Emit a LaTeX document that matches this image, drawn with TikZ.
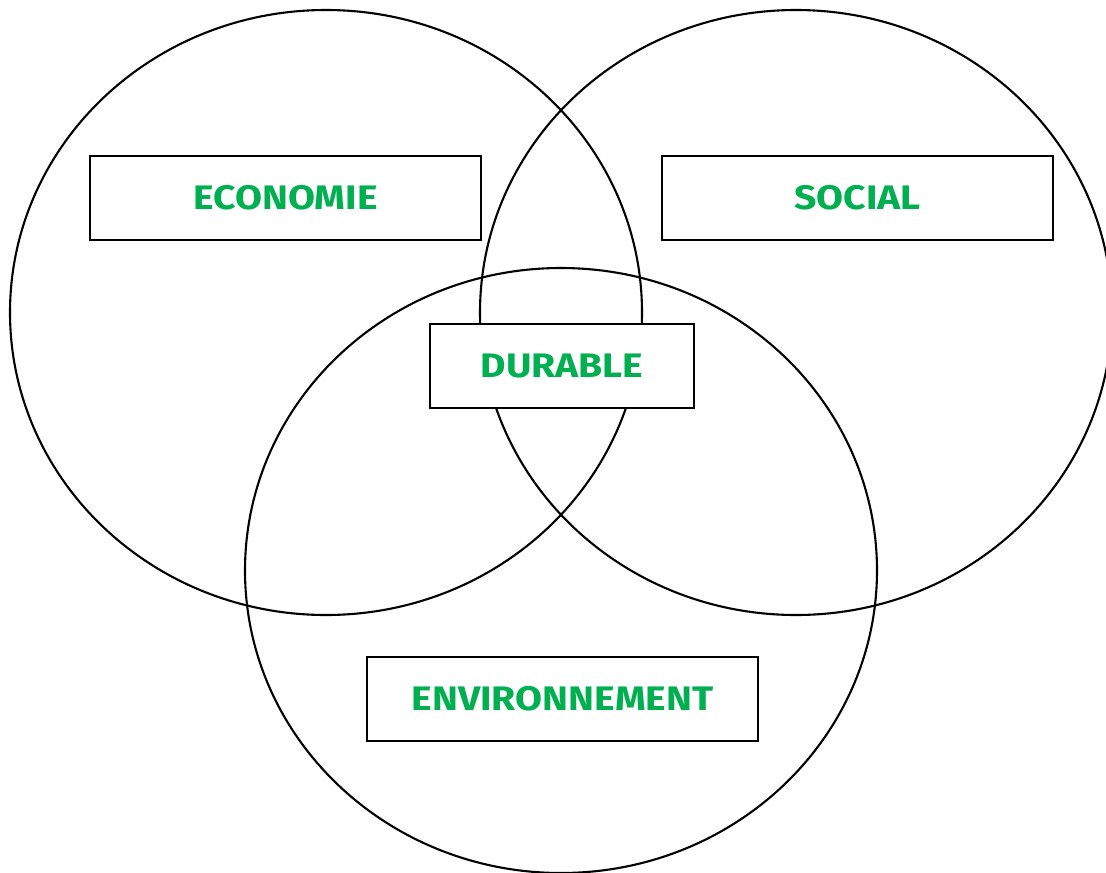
\documentclass[tikz,border=0pt]{standalone}
\usepackage{fontspec}
\setmainfont{Fira Sans}
\newfontfamily\tagfont[FakeStretch=1.15]{Fira Sans}
\usepackage{tikz}
\usepackage{xcolor}
\usetikzlibrary{shapes.geometric, positioning}
\definecolor{labelgreen}{HTML}{00B050}

\begin{document}
\begin{tikzpicture}[x=1pt, y=-1pt,
        pillar/.style={ellipse, draw, line width=2.1pt, minimum width=632pt, minimum height=605pt, inner sep=0pt},
        tag/.style={rectangle, draw, fill=white, line width=2.1pt, minimum height=84pt, inner sep=0pt, text=labelgreen, font=\tagfont\fontsize{34}{36}\selectfont\bfseries}]
            \useasboundingbox (0, 0) rectangle (1106, 873);
            \node[pillar] (eco) at (326, 312.5) {};
            \node[pillar] (soc) at (796, 312.5) {};
            \node[pillar] (env) at (561, 570.5) {};

            \node[tag, minimum width=391pt] (economie) at (285.5, 198) {ECONOMIE};
            \node[tag, minimum width=391pt] (social) at (857.5, 198) {SOCIAL};
            \node[tag, minimum width=264pt] (durable) at (562, 366) {DURABLE};
            \node[tag, minimum width=391pt] (environnement) at (562.5, 699) {ENVIRONNEMENT};
        \end{tikzpicture}
\end{document}
